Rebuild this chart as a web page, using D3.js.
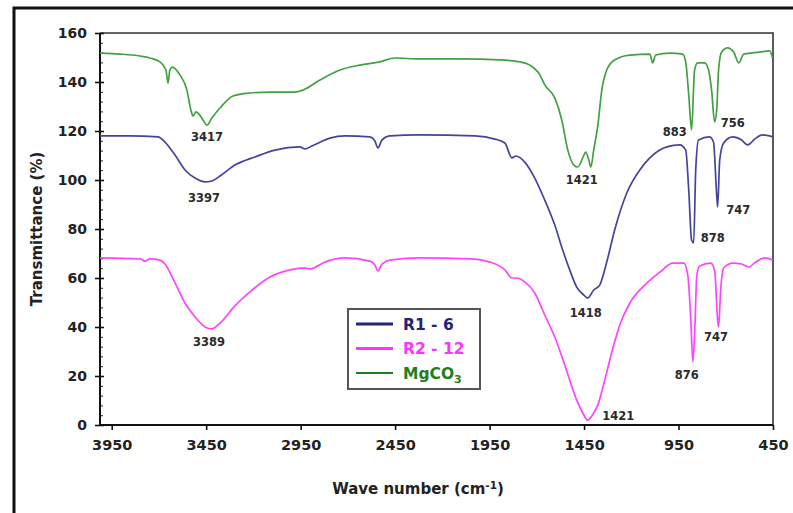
<!DOCTYPE html>
<html>
<head>
<meta charset="utf-8">
<script src="https://cdn.jsdelivr.net/npm/d3@7"></script>
<style>
  body { margin: 0; background: #fff; }
  .tick text { font-family: "DejaVu Sans", sans-serif; font-weight: bold; fill: #222; }
</style>
</head>
<body>
<div class="chart"></div>
<script>
// FTIR spectra, values as [wave number, transmittance]
var mgco3 = [[4012,151.8],[3906,151.4],[3800,150.6],[3747,149.8],[3695,148.2],[3663,144.9],[3652,139.6],[3642,144.9],
  [3631,146.1],[3589,142.9],[3552,136.7],[3531,128.6],[3520,126.1],[3504,127.8],[3488,126.9],[3467,124.5],[3446,122.4],
  [3420,125.3],[3377,129.4],[3308,134.3],[3219,135.5],[3112,135.9],[2980,135.9],[2927,137.1],[2848,140.8],[2742,144.9],
  [2636,146.9],[2531,148.2],[2451,149.8],[2319,149.4],[2108,149.4],[1896,149],[1790,148.2],[1737,146.9],[1684,142.9],
  [1658,138.8],[1605,133.5],[1568,124.5],[1536,112.2],[1504,106.1],[1483,105.3],[1457,109],[1441,111.4],[1425,108.2],
  [1414,105.3],[1399,112.2],[1377,122.4],[1356,136.7],[1330,144.9],[1288,149],[1208,151],[1102,151.4],[1087,147.8],
  [1071,151],[997,151.8],[928,151.4],[912,148.2],[896,134.7],[881,120.4],[865,144.9],[849,147.8],[812,147.8],[791,144.9],
  [775,136.7],[759,123.7],[748,128.6],[738,144.9],[722,152.2],[690,153.9],[658,152.2],[631,147.8],[605,151.4],[521,152.2],
  [468,152.7],[452,149.8]];

var r1_6 = [[4012,118],[3853,118],[3705,117.6],[3668,115.5],[3615,110.2],[3562,104.1],[3509,100.8],[3456,99.2],[3420,99.6],
  [3377,101.6],[3298,106.1],[3192,109.4],[3086,112.2],[2954,113.5],[2927,112.7],[2890,113.9],[2795,117.1],[2716,118],
  [2584,117.6],[2557,115.9],[2541,113.1],[2520,116.3],[2478,118],[2319,118.4],[2028,118],[1922,116.7],[1869,115.1],
  [1832,109],[1811,109.8],[1764,107.3],[1711,100.8],[1658,91.8],[1605,81.6],[1563,71.4],[1526,63.3],[1489,56.3],
  [1452,53.1],[1431,51.8],[1399,55.1],[1367,57.1],[1330,66.5],[1288,79.6],[1224,94.7],[1155,104.1],[1102,109],
  [1012,113.5],[943,114.3],[912,112.2],[896,95.9],[881,75.5],[870,74.3],[859,104.1],[844,116.3],[786,117.6],[765,115.5],
  [748,93.9],[743,89],[732,108.2],[711,115.1],[663,117.6],[616,116.3],[584,114.3],[547,116.7],[505,118.4],[452,117.6]];

var r2_12 = [[4012,68.2],[3800,67.8],[3774,66.9],[3747,67.8],[3695,67.3],[3668,65.7],[3615,58],[3562,49.8],[3509,44.1],
  [3456,40],[3420,39.2],[3377,41.6],[3298,48.6],[3219,54.3],[3112,60.4],[3007,63.3],[2927,64.1],[2901,63.7],[2822,66.5],
  [2716,68.2],[2584,66.9],[2557,65.3],[2541,62.9],[2520,65.7],[2478,67.3],[2319,68.2],[2055,67.8],[1949,66.5],[1869,63.3],
  [1832,60],[1806,60],[1764,58.4],[1711,53.9],[1658,44.9],[1605,35.9],[1552,24.5],[1499,12.2],[1457,4.9],[1431,2],
  [1409,3.7],[1377,8.2],[1340,18.4],[1303,29.8],[1261,40.8],[1208,49.8],[1129,57.1],[1049,62.4],[980,66.1],[922,66.1],
  [901,61.2],[885,42.9],[874,25.7],[864,38.8],[853,61.2],[838,64.9],[780,66.1],[759,63.3],[743,42.9],[738,40],[727,55.1],
  [711,64.1],[663,66.1],[616,65.7],[579,64.5],[542,66.5],[494,68.2],[452,67.3]];

var seriesNames = ["R1 - 6", "R2 - 12", "MgCO3"];
var seriesColors = ["#44449c", "#ff44ff", "#43a043"];
var legendColors = ["#23237a", "#ff33ff", "#1f7f1f"];

var xTicks = [3950, 3450, 2950, 2450, 1950, 1450, 950, 450];
var yTicks = [0, 20, 40, 60, 80, 100, 120, 140, 160];

// peak labels: text, wave number, transmittance (where the label sits)
var peakText = ["3417", "3397", "3389", "1421", "883", "756", "747", "878", "1418", "876", "747", "1421"];
var peakWave = [3446, 3462, 3435, 1462, 970, 663, 634, 769, 1441, 907, 751, 1269];
var peakValue = [115.9, 91, 32.2, 98.4, 118, 121.6, 86.1, 74.7, 44.1, 18.8, 34.3, 2];

var W = 793, H = 513;
var margin = {top: 33, right: 20, bottom: 88, left: 100};

var svg = d3.select(".chart").append("svg")
    .attr("width", W)
    .attr("height", H)
    .style("display", "block");

svg.append("rect").attr("width", W).attr("height", H).attr("fill", "#fff");

// outer figure frame (only top and left edges show)
svg.append("path")
    .attr("d", "M14," + H + "V8H" + W)
    .attr("fill", "none")
    .attr("stroke", "#111")
    .attr("stroke-width", 3);

var x = d3.scaleLinear()
    .domain([4012, 450])
    .range([margin.left, W - margin.right]);
var y = d3.scaleLinear()
    .domain([0, 160])
    .range([H - margin.bottom, margin.top]);

// plot box top/right
svg.append("path")
    .attr("d", "M" + x.range()[0] + "," + y(160) + "H" + x(450) + "V" + y(0))
    .attr("fill", "none")
    .attr("stroke", "#333")
    .attr("stroke-width", 1.6);

// minor y ticks (inside)
svg.append("g")
    .attr("transform", "translate(" + margin.left + ",0)")
    .call(d3.axisRight(y).tickValues(d3.range(0, 161, 4)).tickSize(3).tickFormat(""))
    .call(function(g) { g.select(".domain").remove(); })
    .selectAll("line").attr("stroke", "#222");

var yAxis = svg.append("g")
    .attr("transform", "translate(" + margin.left + ",0)")
    .call(d3.axisLeft(y).tickValues(yTicks).tickSize(5).tickPadding(8));
yAxis.select(".domain").attr("stroke", "#111").attr("stroke-width", 2).attr("d", "M0," + y(0) + "V" + y(160));
yAxis.selectAll("line").attr("stroke", "#111").attr("stroke-width", 1.6).attr("x2", -5).attr("x1", 4);
yAxis.selectAll("text").style("font-size", "14px");

var xAxis = svg.append("g")
    .attr("transform", "translate(0," + y(0) + ")")
    .call(d3.axisBottom(x).tickValues(xTicks).tickFormat(d3.format("d")).tickSize(5).tickPadding(10));
xAxis.select(".domain").attr("stroke", "#111").attr("stroke-width", 2).attr("d", "M" + margin.left + ",0H" + x(450));
xAxis.selectAll("line").attr("stroke", "#111").attr("stroke-width", 1.6);
xAxis.selectAll("text").style("font-size", "14.5px");

// axis titles
svg.append("text")
    .attr("x", 418)
    .attr("y", 494)
    .attr("text-anchor", "middle")
    .style("font-family", "DejaVu Sans, sans-serif")
    .style("font-weight", "bold")
    .style("font-size", "15px")
    .attr("fill", "#222")
    .html('Wave number (cm<tspan dy="-5" font-size="10.5px">-1</tspan><tspan dy="5">)</tspan>');

svg.append("text")
    .attr("transform", "translate(42," + y(80) + ") rotate(-90)")
    .attr("text-anchor", "middle")
    .style("font-family", "DejaVu Sans, sans-serif")
    .style("font-weight", "bold")
    .style("font-size", "15px")
    .attr("fill", "#222")
    .text("Transmittance (%)");

var line = d3.line()
    .x(function(d) { return x(d[0]); })
    .y(function(d) { return y(d[1]); })
    .curve(d3.curveMonotoneX);

var allSeries = [r1_6, r2_12, mgco3];
svg.selectAll(".spectrum")
    .data(allSeries)
  .enter().append("path")
    .attr("class", "spectrum")
    .attr("d", function(d) { return line(d.slice().sort(function(a, b) { return b[0] - a[0]; })); })
    .attr("fill", "none")
    .attr("stroke", function(d, i) { return seriesColors[i]; })
    .attr("stroke-width", 1.7)
    .attr("stroke-linejoin", "round");

// peak annotations
svg.selectAll(".peak")
    .data(peakText)
  .enter().append("text")
    .attr("class", "peak")
    .attr("x", function(d, i) { return x(peakWave[i]); })
    .attr("y", function(d, i) { return y(peakValue[i]); })
    .attr("text-anchor", "middle")
    .style("font-family", "DejaVu Sans, sans-serif")
    .style("font-weight", "bold")
    .style("font-size", "11.5px")
    .attr("fill", "#2a2a2a")
    .text(function(d) { return d; });

// legend
var lg = svg.append("g").attr("transform", "translate(348,309)");
lg.append("rect")
    .attr("width", 132)
    .attr("height", 80)
    .attr("fill", "#fff")
    .attr("stroke", "#555")
    .attr("stroke-width", 2);
var item = lg.selectAll(".item")
    .data(seriesNames)
  .enter().append("g")
    .attr("class", "item")
    .attr("transform", function(d, i) { return "translate(0," + (15 + i * 24.5) + ")"; });
item.append("line")
    .attr("x1", 8).attr("x2", 45)
    .attr("stroke", function(d, i) { return legendColors[i]; })
    .attr("stroke-width", function(d, i) { return i == 2 ? 2 : 3; });
item.append("text")
    .attr("x", 55)
    .attr("dy", "0.36em")
    .style("font-family", "DejaVu Sans, sans-serif")
    .style("font-weight", "bold")
    .style("font-size", "15.5px")
    .attr("fill", function(d, i) { return legendColors[i]; })
    .each(function(d) {
      var t = d3.select(this);
      if (d == "MgCO3") {
        t.append("tspan").text("MgCO");
        t.append("tspan").attr("dy", 4).style("font-size", "11px").text("3");
      } else {
        t.text(d);
      }
    });
</script>
</body>
</html>
